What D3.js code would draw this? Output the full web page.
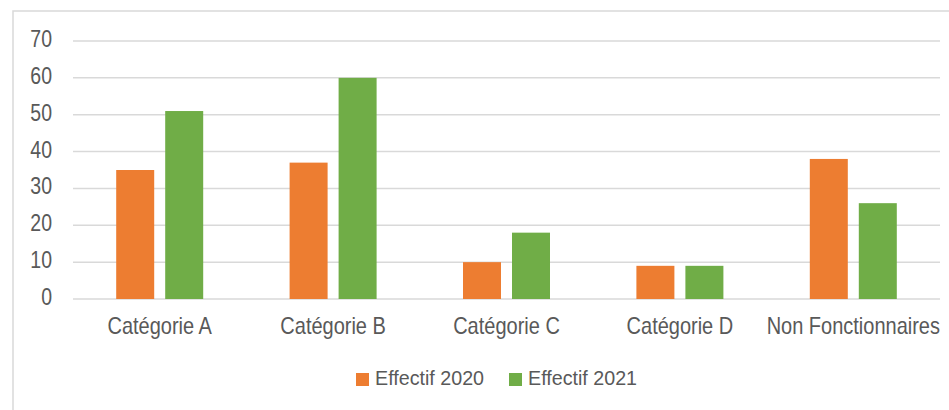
<!DOCTYPE html>
<html><head><meta charset="utf-8">
<script src="https://cdn.jsdelivr.net/npm/d3@7"></script>
<style>body{margin:0;background:#fff}text{font-family:"Liberation Sans",Arial,sans-serif;fill:#595959}</style>
</head><body><svg id="c" width="949" height="410"></svg>
<script>
const categories = ["Catégorie A","Catégorie B","Catégorie C","Catégorie D","Non Fonctionnaires"];
const seriesNames = ["Effectif 2020","Effectif 2021"];
const values2020 = [35,37,10,9,38];
const values2021 = [51,60,18,9,26];
const yTicks = [0,10,20,30,40,50,60,70];
const colors = ["#ED7D31","#70AD47"];

const svg = d3.select("#c");
svg.append("rect").attr("x",13).attr("y",11).attr("width",960).attr("height",420)
  .attr("fill","none").attr("stroke","#d9d9d9").attr("stroke-width",1.5);

const x = d3.scaleBand().domain(categories).range([73,940]);
const y = d3.scaleLinear().domain([0,70]).range([299,41]);

const g = svg.append("g");
yTicks.forEach(t=>{
  g.append("line").attr("x1",73).attr("x2",940).attr("y1",y(t)).attr("y2",y(t))
   .attr("stroke","#d9d9d9").attr("stroke-width",1.5);
  g.append("text").attr("transform",`translate(52,${y(t)+6}) scale(1,1.26)`).attr("text-anchor","end")
   .attr("font-size",19.5).text(t);
});

const series = [values2020, values2021];
const bw = 38, gap = 11;
series.forEach((vals,si)=>{
  g.selectAll(null).data(categories).enter().append("rect")
   .attr("x",(d)=>x(d)+x.bandwidth()/2 + (si===0 ? -gap/2-bw : gap/2))
   .attr("width",bw)
   .attr("y",(d,i)=>y(vals[i]))
   .attr("height",(d,i)=>y(0)-y(vals[i]))
   .attr("fill",colors[si]);
});

categories.forEach(c=>{
  g.append("text").attr("transform",`translate(${x(c)+x.bandwidth()/2},334) scale(1,1.16)`)
   .attr("text-anchor","middle").attr("font-size",20).text(c);
});

const legX = [356,509];
seriesNames.forEach((s,i)=>{
  svg.append("rect").attr("x",legX[i]).attr("y",373).attr("width",13).attr("height",13).attr("fill",colors[i]);
  svg.append("text").attr("transform",`translate(${legX[i]+19},385) scale(1,1.06)`).attr("font-size",19.7).text(s);
});
</script></body></html>
